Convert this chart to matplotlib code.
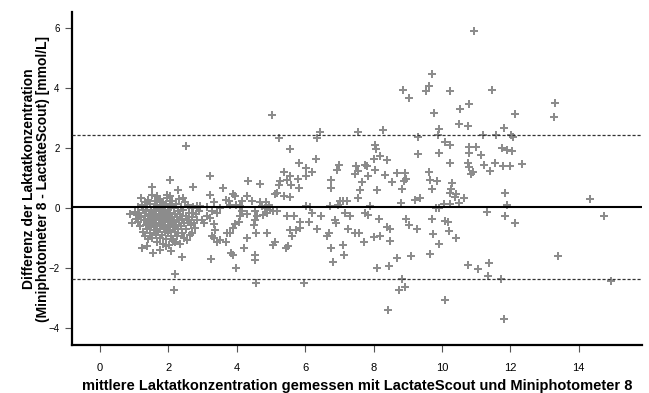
import matplotlib.pyplot as plt

plt.rcParams['font.family'] = ['Liberation Sans Narrow', 'Liberation Sans', 'DejaVu Sans']

# Bland-Altman data: mean lactate (x) and difference (y)
mean_lactate = [
    # dense cluster 1.0 - 2.9
    1.02, 1.05, 1.08, 1.10, 1.12, 1.15, 1.18, 1.20, 1.22, 1.25, 1.27, 1.28, 1.30, 1.30,
    1.32, 1.33, 1.35, 1.36, 1.38, 1.40, 1.41, 1.42, 1.44, 1.45, 1.46, 1.48, 1.50, 1.50,
    1.52, 1.53, 1.55, 1.56, 1.57, 1.58, 1.60,
    1.61, 1.62, 1.63, 1.64, 1.65, 1.66, 1.67, 1.68, 1.69, 1.70, 1.71, 1.72, 1.73, 1.74,
    1.75, 1.76, 1.77, 1.78, 1.79, 1.80, 1.81, 1.82, 1.83, 1.84, 1.85, 1.86, 1.87, 1.88,
    1.89, 1.90,
    1.91, 1.92, 1.93, 1.94, 1.95, 1.96, 1.97, 1.98, 1.99, 2.00, 2.01, 2.02, 2.03, 2.04,
    2.05, 2.06, 2.07, 2.08, 2.10, 2.11, 2.12, 2.14, 2.15, 2.16, 2.18, 2.19,
    2.21, 2.22, 2.24, 2.25, 2.27, 2.28, 2.30, 2.31, 2.33, 2.35, 2.36, 2.38, 2.40, 2.41,
    2.43, 2.45, 2.47, 2.48, 2.50,
    2.52, 2.55, 2.57, 2.60, 2.62, 2.65, 2.70, 2.72, 2.75, 2.80, 2.85, 2.88,
    # cluster edges
    0.88, 0.93, 1.20, 1.22, 1.37, 1.54, 1.76, 1.93, 2.08, 2.20, 2.29, 2.54, 2.68, 2.78,
    2.59, 2.73, 2.68, 2.49, 2.44, 2.05, 1.95, 1.76, 1.66, 1.41,
    2.18, 2.15, 2.39, 2.51, 1.53, 2.05, 2.73, 2.29,
    # 2.8 - 5
    2.83, 2.93, 3.12, 3.27, 3.41, 3.51, 3.80, 3.98, 4.10, 4.15, 4.29, 4.52, 4.59, 4.78,
    4.88, 5.07, 4.73, 4.83, 4.98, 3.22, 3.61, 4.34, 4.68, 3.90, 3.95, 3.68, 3.76, 3.21,
    3.32, 4.29, 4.44, 4.68, 4.85, 4.93, 4.15, 4.10, 4.05, 3.95, 3.90, 3.80, 3.71, 3.68,
    3.51, 3.41, 3.32, 3.27, 3.37, 3.32, 3.22, 3.12, 3.04, 2.98, 3.83, 3.90, 3.97, 4.52,
    4.54, 4.55, 3.24, 4.57, 4.88, 4.54, 4.49, 4.29, 4.22,
    # 5 - 8.2
    5.04, 5.22, 5.56, 6.44, 6.34, 7.54, 8.05, 8.08, 8.20, 8.00, 5.83, 6.32, 7.00, 6.93,
    7.49, 7.54, 7.46, 7.76, 7.80, 8.03, 7.85, 7.66, 8.10, 7.59, 7.56, 5.39, 5.56, 5.46,
    5.27, 5.22, 6.03, 6.20, 5.80, 5.83, 6.01, 5.59, 6.76, 6.76, 5.12, 5.17, 5.37, 5.56,
    7.02, 7.12, 7.22, 6.96, 6.73, 6.03, 6.13, 7.90, 5.17, 5.46, 5.66, 5.85, 6.10, 6.20,
    6.47, 6.34, 5.85, 5.74, 5.56, 5.61, 5.51, 5.43, 5.12, 5.07, 5.98, 6.71, 6.63, 6.88,
    6.90, 6.76, 6.81, 7.12, 7.14, 7.24, 7.17, 7.32, 7.46, 7.58, 7.71, 7.76, 7.83, 8.00,
    8.20, 8.10, 8.15,
    # 8.2 and above
    10.95, 9.72, 9.62, 9.53, 8.85, 9.04, 10.24, 11.46, 10.80, 10.53, 9.77, 12.15, 13.31,
    13.29, 10.49, 10.75, 11.82, 9.91, 9.88, 9.29, 8.29, 10.08, 10.24, 10.80, 10.99, 10.80,
    11.19, 11.57, 12.01, 12.08, 11.77, 11.91, 12.04, 11.14, 9.91, 9.30, 8.39, 10.25,
    10.75, 10.78, 10.90, 10.85, 11.22, 11.56, 11.41, 11.79, 11.99, 12.33, 8.34, 8.70,
    8.53, 8.92, 8.95, 8.89, 8.82, 9.61, 9.64, 9.86, 9.72, 10.30, 10.28, 10.25, 10.38,
    10.42, 10.66, 11.85, 9.21, 9.37, 8.80, 9.84, 9.91, 10.05, 10.25, 10.49, 11.91, 14.33,
    14.74, 11.86, 12.15, 11.31, 8.39, 8.48, 8.48, 8.95, 9.04, 9.26, 9.72, 10.08, 10.17,
    9.74, 9.91, 10.22, 10.40, 9.64, 9.11, 8.70, 8.44, 10.75, 11.07, 11.38, 11.36, 11.72,
    13.39, 14.96, 8.82, 8.92, 8.74, 10.08, 8.43, 11.82,
]

diff_lactate = [
    # dense cluster 1.0 - 2.9
    -0.12, -0.35, -0.22, 0.05, -0.45, -0.18, -0.60, -0.30, 0.10, -0.05, -0.80, -0.40, -0.25, 0.20,
    -0.95, -0.55, -0.10, -0.70, 0.02, -0.35, -1.05, -0.20, -0.50, 0.15, -0.85, -0.05, -0.65, -0.30,
    0.45, -1.00, -0.45, -0.15, 0.05, -0.75, -0.25,
    -0.55, 0.25, -0.90, -0.10, -0.40, -1.15, -0.60, 0.10, -0.30, -0.80, -0.05, -0.50, 0.30, -0.20,
    -1.00, -0.70, -0.35, 0.00, -0.55, -0.15, -0.90, 0.20, -0.45, -0.25, -1.20, -0.65, 0.05, -0.40,
    -0.80, -0.10,
    -0.55, 0.15, -0.30, -1.05, -0.70, -0.20, 0.35, -0.45, -0.85, -0.05, -0.60, -1.25, -0.35, 0.10,
    -0.75, -0.15, -0.50, -0.95, 0.25, -0.30, -0.65, -1.10, 0.00, -0.45, -0.80, -0.20,
    0.15, -0.55, -0.95, -0.30, -0.10, -0.70, 0.30, -0.40, -1.20, -0.20, -0.60, 0.05, -0.85, -0.35,
    -0.05, -0.50, -1.00, 0.20, -0.25,
    -0.70, -0.40, 0.10, -0.15, -0.90, -0.55, -0.30, 0.05, -0.50, -0.20, -0.40, -0.10,
    # cluster edges
    -0.19, -0.50, 0.34, -1.34, -1.26, -1.51, -1.40, -1.28, -1.43, -1.12, -0.84, -1.06, -0.84, -0.67,
    -0.39, -0.17, 0.00, 0.19, 0.34, 0.39, 0.45, 0.28, 0.41, 0.28,
    -2.20, -2.72, -1.64, 2.06, 0.70, 0.92, 0.70, 0.61,
    # 2.8 - 5
    0.08, 0.06, 0.03, -0.11, -0.17, 0.00, 0.11, 0.09, 0.06, -0.11, -0.20, -0.11, -0.28, -0.22,
    -0.17, -0.11, 0.06, 0.00, -0.06, 1.06, 0.67, 0.89, 0.80, 0.47, 0.39, 0.28, 0.22, 0.45,
    0.19, 0.41, 0.22, 0.19, 0.19, 0.11, 0.25, -0.28, -0.45, -0.53, -0.67, -0.84, -0.82, -1.12,
    -1.06, -1.12, -1.01, -0.95, -0.73, -0.53, -0.34, -0.28, -0.50, -0.39, -1.49, -1.56, -2.01, -1.56,
    -1.75, -2.51, -1.71, -0.82, -0.84, -0.39, -0.56, -1.01, -1.34,
    # 5 - 8.2
    3.11, 2.35, 1.96, 2.54, 2.35, 2.54, 2.09, 1.96, 1.73, 1.62, 1.49, 1.64, 1.45, 1.28,
    1.40, 1.23, 1.12, 1.45, 1.40, 1.26, 1.06, 0.86, 0.59, 0.61, 0.34, 1.20, 1.06, 0.95,
    0.89, 0.78, 1.34, 1.21, 0.97, 0.67, 1.06, 0.78, 0.92, 0.67, 0.48, 0.50, 0.39, 0.36,
    0.25, 0.25, 0.25, 0.11, 0.06, 0.06, 0.03, 0.06, -0.11, -0.28, -0.28, -0.45, -0.45, -0.17,
    -0.28, -0.70, -0.67, -0.73, -0.73, -0.95, -1.28, -1.32, -1.12, -1.23, -2.51, -0.84, -0.93, -0.39,
    -0.50, -1.34, -1.79, -1.23, -1.56, -0.70, -0.15, -0.28, -0.84, -0.84, -1.15, -0.17, -0.22, -0.97,
    -0.95, -2.01, -0.37,
    # 8.2 and above
    5.91, 4.47, 4.06, 3.89, 3.93, 3.67, 3.91, 3.95, 3.47, 3.30, 3.17, 3.13, 3.50,
    3.02, 2.81, 2.72, 2.68, 2.63, 2.44, 2.38, 2.61, 2.19, 2.10, 2.05, 2.05, 1.85,
    2.42, 2.42, 2.42, 2.38, 2.01, 1.94, 1.90, 1.77, 1.82, 1.80, 1.60, 1.49,
    1.51, 1.38, 1.21, 1.15, 1.45, 1.51, 1.24, 1.40, 1.40, 1.47, 1.10, 1.17,
    0.87, 1.17, 0.98, 0.91, 0.65, 1.21, 0.93, 0.89, 0.63, 0.82, 0.65, 0.50, 0.37,
    0.48, 0.34, 0.51, 0.26, 0.35, 0.17, 0.01, 0.01, 0.15, 0.15, 0.17, 0.09, 0.29,
    -0.25, -0.25, -0.49, -0.13, -0.64, -0.69, -1.09, -0.36, -0.55, -0.69, -0.36, -0.44, -0.47,
    -0.86, -1.20, -0.77, -1.01, -1.53, -1.59, -1.67, -1.92, -1.90, -2.05, -1.83, -2.26, -2.37,
    -1.61, -2.45, -2.37, -2.62, -2.73, -3.08, -3.41, -3.71,
]

mean_diff = 0.03
upper_loa = 2.43
lower_loa = -2.37

fig = plt.figure(figsize=(6.49, 3.93), dpi=100)
ax = fig.add_axes([0.111, 0.122, 0.878, 0.847])

ax.scatter(mean_lactate, diff_lactate, marker='P', s=32, color='#8c8c8c',
           linewidths=0, zorder=2)

ax.axhline(mean_diff, color='black', linewidth=1.5, zorder=3)
ax.axhline(upper_loa, color='#333333', linewidth=0.9, linestyle=(0, (2.5, 1.5)), zorder=3)
ax.axhline(lower_loa, color='#333333', linewidth=0.9, linestyle=(0, (2.5, 1.5)), zorder=3)

ax.set_xlim(-0.82, 15.85)
ax.set_ylim(-4.57, 6.53)
ax.set_xticks([0, 2, 4, 6, 8, 10, 12, 14])
ax.set_yticks([-4, -2, 0, 2, 4, 6])

for side in ['top', 'right']:
    ax.spines[side].set_visible(False)
for side in ['left', 'bottom']:
    ax.spines[side].set_linewidth(1.6)

ax.tick_params(axis='both', direction='out', length=5, width=0.8, colors='#555555',
               labelcolor='black')
ax.tick_params(axis='x', labelsize=8, pad=8)
ax.tick_params(axis='y', labelsize=7, pad=4)

ax.set_xlabel('mittlere Laktatkonzentration gemessen mit LactateScout und Miniphotometer 8',
              fontsize=10.5, fontweight='bold', labelpad=4)
ax.set_ylabel('Differenz der Laktatkonzentration\n(Miniphotometer 8 - LactateScout) [mmol/L]',
              fontsize=10, fontweight='bold', labelpad=-1, linespacing=1.0)

fig.savefig('out.png', dpi=100)
